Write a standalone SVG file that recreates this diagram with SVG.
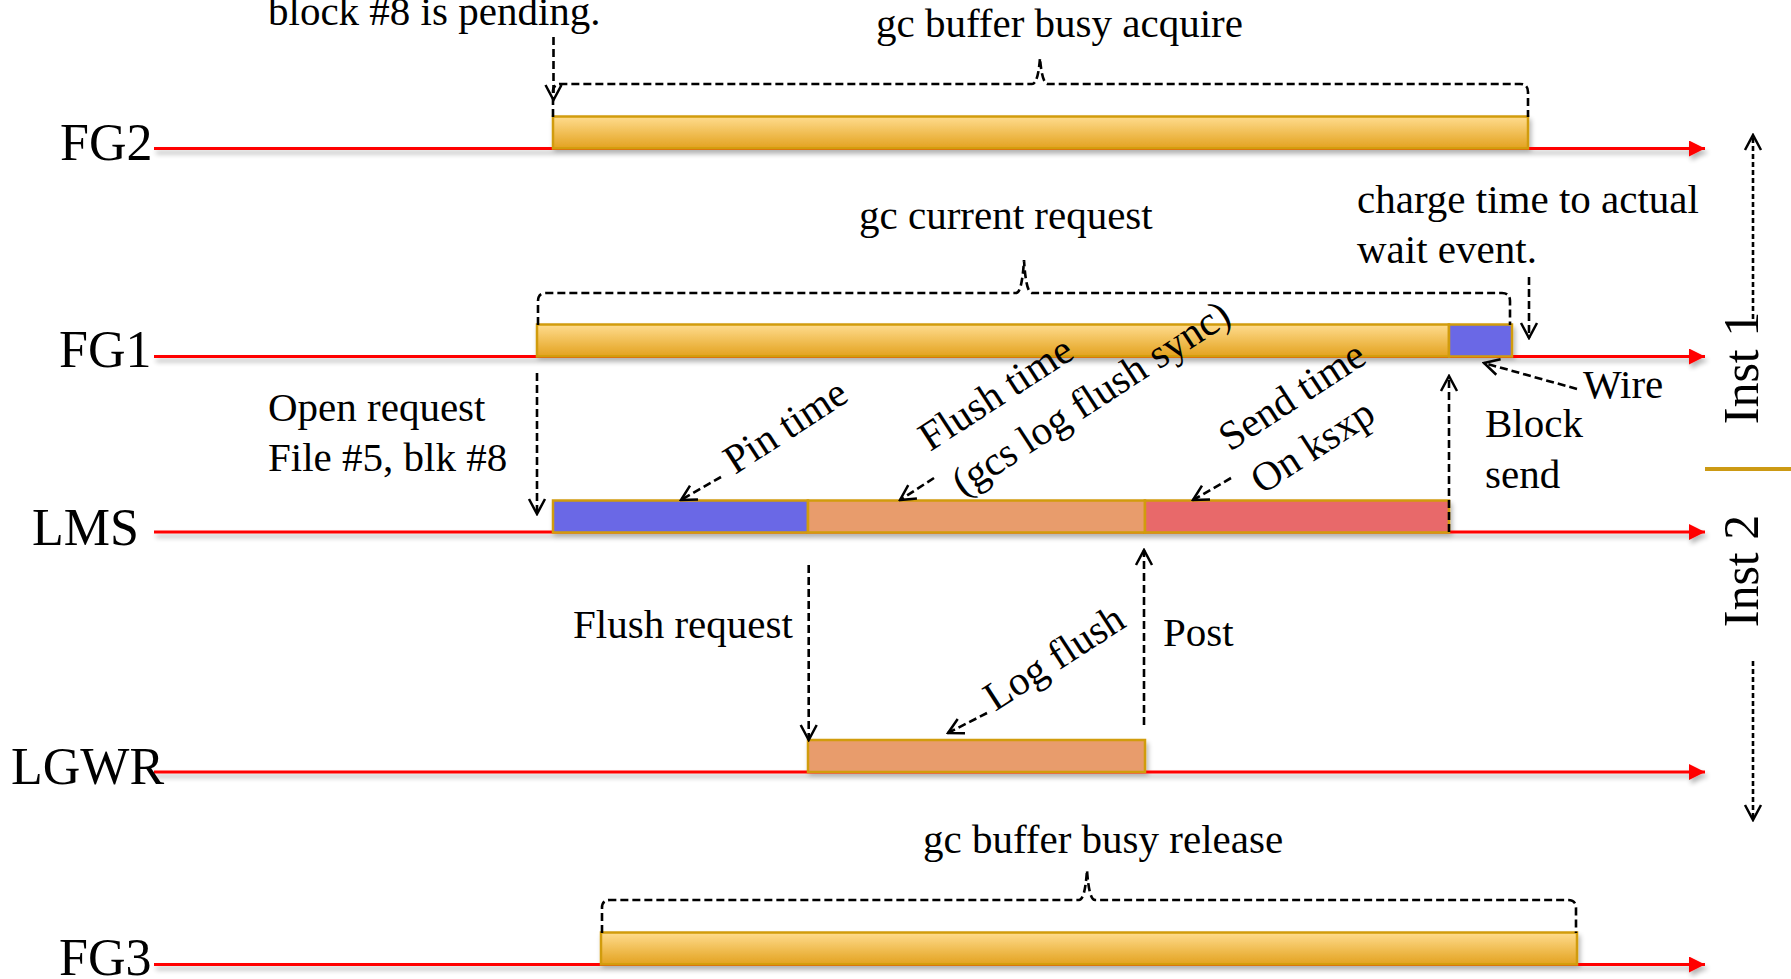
<svg xmlns="http://www.w3.org/2000/svg" width="1791" height="979" viewBox="0 0 1791 979">
<defs>
<linearGradient id="gold" x1="0" y1="0" x2="0" y2="1">
<stop offset="0" stop-color="#FFDC8E"/><stop offset="1" stop-color="#E3A21F"/>
</linearGradient>
<filter id="sh" filterUnits="userSpaceOnUse" x="0" y="0" width="1791" height="979">
<feGaussianBlur in="SourceAlpha" stdDeviation="2.5"/>
<feOffset dx="2" dy="4" result="b"/>
<feComponentTransfer><feFuncA type="linear" slope="0.3"/></feComponentTransfer>
<feMerge><feMergeNode/><feMergeNode in="SourceGraphic"/></feMerge>
</filter>
<marker id="ra" viewBox="0 0 16 16" refX="16" refY="8" markerWidth="16" markerHeight="16" markerUnits="userSpaceOnUse" orient="auto">
<path d="M0,0 L16,8 L0,16 Z" fill="#FF0000"/>
</marker>
<marker id="va" viewBox="0 0 20 20" refX="18" refY="10" markerWidth="20" markerHeight="20" markerUnits="userSpaceOnUse" orient="auto">
<path d="M3,2 L18,10 L3,18" fill="none" stroke="#000" stroke-width="2.5" stroke-dasharray="none"/>
</marker>
<style>
.t { font-family: "Liberation Serif", "Times New Roman", serif; font-size: 41px; fill: #000; }
.lbl { font-size: 52px; }
.inst { font-size: 50px; text-anchor: middle; }
.tl { stroke: #FF0000; stroke-width: 3; fill: none; marker-end: url(#ra); }
.dash { stroke: #000; stroke-width: 2.6; stroke-dasharray: 8 4; fill: none; }
.fine { stroke-dasharray: 5 3; }
.arr { marker-end: url(#va); }
.bar { stroke: #D19C0A; stroke-width: 2.5; }
.gold { fill: url(#gold); }
.blue { fill: #6B67E6; }
.flush { fill: #E89C6C; }
.red { fill: #E8696B; }
</style>
</defs>
<rect width="1791" height="979" fill="#FFFFFF"/>

<g id="FG2">
<g filter="url(#sh)">
<path class="tl" d="M154,148.5 H1705"/>
<rect class="bar gold" x="553" y="116.5" width="975" height="32"/>
</g>
<text class="t lbl" x="60" y="160">FG2</text>
</g>

<g id="FG1">
<g filter="url(#sh)">
<path class="tl" d="M154,356.5 H1705"/>
<rect class="bar gold" x="537" y="324.5" width="912" height="32"/>
<rect class="bar blue" x="1449" y="324.5" width="63" height="32"/>
</g>
<text class="t lbl" x="59" y="367">FG1</text>
</g>

<g id="LMS">
<g filter="url(#sh)">
<path class="tl" d="M154,532 H1705"/>
<rect class="bar blue" x="553" y="500.5" width="255" height="32"/>
<rect class="bar flush" x="808" y="500.5" width="337" height="32"/>
<rect class="bar red" x="1145" y="500.5" width="304" height="32"/>
</g>
<text class="t lbl" x="32" y="545">LMS</text>
</g>

<g id="LGWR">
<g filter="url(#sh)">
<path class="tl" d="M154,772 H1705"/>
<rect class="bar flush" x="808" y="740" width="337" height="32"/>
</g>
<text class="t lbl" x="11" y="784">LGWR</text>
</g>

<g id="FG3">
<g filter="url(#sh)">
<path class="tl" d="M154,964.5 H1705"/>
<rect class="bar gold" x="601" y="932.5" width="976" height="32"/>
</g>
<text class="t lbl" x="59" y="975">FG3</text>
</g>

<g id="instances">
<path d="M1705,469 H1791" stroke="#CC9A14" stroke-width="4"/>
<text class="t inst" transform="translate(1758,368) rotate(-90)">Inst 1</text>
<text class="t inst" transform="translate(1758,571) rotate(-90)">Inst 2</text>
</g>

<g id="connectors">
<path class="dash" d="M553,117 V92 Q553,84 561,84 L1032,84 Q1038,84 1040,58 Q1042,84 1048,84 L1520,84 Q1528,84 1528,92 V117"/>
<path class="dash" d="M538,325 V301 Q538,293 546,293 L1016,293 Q1022,293 1024,260 Q1026,293 1032,293 L1502,293 Q1510,293 1510,301 V325"/>
<path class="dash" d="M602,933 V908 Q602,900 610,900 L1079,900 Q1085,900 1087,870 Q1089,900 1095,900 L1568,900 Q1576,900 1576,908 V933"/>
<path class="dash arr" d="M553.5,37 V100"/>
<path class="dash arr" d="M1529,277 V338"/>
<path class="dash arr" d="M537,373 V514"/>
<path class="dash arr" d="M808.7,565 V740"/>
<path class="dash arr" d="M1144,725 V550"/>
<path class="dash arr" d="M1449,532 V376"/>
<path class="dash arr" d="M1577,389 L1484,363"/>
<path class="dash arr" d="M721,477 L681,500"/>
<path class="dash arr" d="M934,478 L900,500"/>
<path class="dash arr" d="M1231,478 L1193,500"/>
<path class="dash arr" d="M987,713 L948,733"/>
<path class="dash fine arr" d="M1753,319 V135"/>
<path class="dash fine arr" d="M1753,661 V820"/>
</g>

<g id="labels">
<text class="t" x="268" y="25">block #8 is pending.</text>
<text class="t" x="876" y="37">gc buffer busy acquire</text>
<text class="t" x="859" y="229">gc current request</text>
<text class="t" x="1357" y="213">charge time to actual</text>
<text class="t" x="1357" y="263">wait event.</text>
<text class="t" x="268" y="421">Open request</text>
<text class="t" x="268" y="471">File #5, blk #8</text>
<text class="t" x="1583" y="398">Wire</text>
<text class="t" x="1485" y="437">Block</text>
<text class="t" x="1485" y="488">send</text>
<text class="t" x="573" y="638">Flush request</text>
<text class="t" x="1163" y="646">Post</text>
<text class="t" x="923" y="853">gc buffer busy release</text>
<text class="t" transform="translate(735,475) rotate(-33)">Pin time</text>
<text class="t" transform="translate(930,452) rotate(-33)">Flush time</text>
<text class="t" transform="translate(963,497) rotate(-33)">(gcs log flush sync)</text>
<text class="t" transform="translate(1230,452) rotate(-33)">Send time</text>
<text class="t" transform="translate(1262,495) rotate(-33)">On ksxp</text>
<text class="t" transform="translate(995,712) rotate(-33)">Log flush</text>
</g>
</svg>
